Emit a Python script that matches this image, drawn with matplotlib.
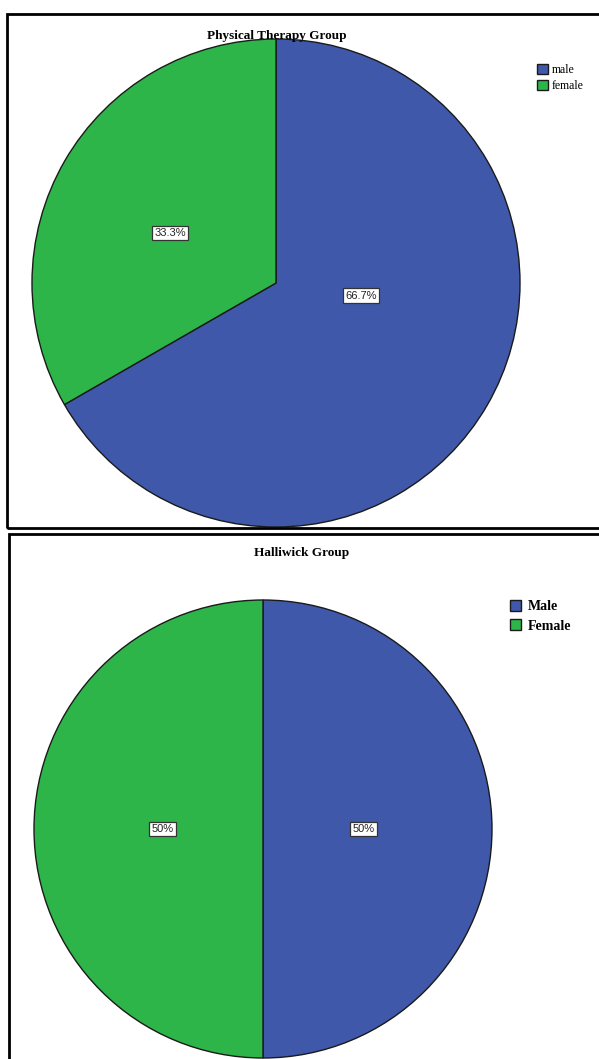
import matplotlib.pyplot as plt
from matplotlib.patches import Rectangle

W, H = 599, 1059

genders_top = ['male', 'female']
share_top = [66.7, 33.3]
genders_bottom = ['Male', 'Female']
share_bottom = [50, 50]
colors = ['#3F58AA', '#2DB54A']

fig = plt.figure(figsize=(W / 100, H / 100), dpi=100)


def px_axes(cx, cy, r):
    return fig.add_axes([(cx - r) / W, (H - cy - r) / H, 2 * r / W, 2 * r / H])


def draw_pie(ax, vals, label_pos=None, pctdist=0.44):
    wedges, texts, autotexts = ax.pie(
        vals, colors=colors, startangle=90, counterclock=False,
        autopct=lambda p: f'{p:.1f}%' if abs(p - round(p)) > 0.05 else f'{p:.0f}%',
        pctdistance=pctdist,
        wedgeprops=dict(edgecolor='#1a1a1a', linewidth=1.0),
        textprops=dict(family='Liberation Sans', fontsize=8, color='#222222'))
    for i, t in enumerate(autotexts):
        t.set_bbox(dict(boxstyle='square,pad=0.22', facecolor='white',
                        edgecolor='#333333', linewidth=0.9))
        if label_pos is not None:
            t.set_position(label_pos[i])
    ax.set_xlim(-1, 1)
    ax.set_ylim(-1, 1)
    ax.set_aspect('auto')
    ax.axis('off')
    return wedges


# panel frames
fig.patches.append(Rectangle((7 / W, 1 - 528 / H), 600 / W, 514 / H, transform=fig.transFigure,
                             fill=False, edgecolor='black', linewidth=2))
fig.patches.append(Rectangle((9 / W, -0.01), 600 / W, 1 - 534 / H + 0.01, transform=fig.transFigure,
                             fill=False, edgecolor='black', linewidth=2))

# top pie
ax1 = px_axes(276, 283, 244)
w1 = draw_pie(ax1, share_top, label_pos=[(0.348, -0.053), (-0.434, 0.205)])
fig.text(277 / W, 1 - 36 / H, 'Physical Therapy Group', ha='center', va='center',
         family='Liberation Serif', fontweight='bold', fontsize=9.5)
fig.legend(w1, genders_top, loc='upper left', bbox_to_anchor=(537 / W, 1 - 64 / H),
           frameon=False, handlelength=0.95, handleheight=0.95, handletextpad=0.3,
           labelspacing=0.3, prop=dict(family='Liberation Serif', size=8.5),
           borderpad=0, borderaxespad=0)

# bottom pie
ax2 = px_axes(263, 829, 229)
w2 = draw_pie(ax2, share_bottom)
fig.text(302 / W, 1 - 553 / H, 'Halliwick Group', ha='center', va='center',
         family='Liberation Serif', fontweight='bold', fontsize=9.5)
fig.legend(w2, genders_bottom, loc='upper left', bbox_to_anchor=(510 / W, 1 - 600 / H),
           frameon=False, handlelength=0.8, handleheight=0.8, handletextpad=0.5,
           labelspacing=0.45, prop=dict(family='Liberation Serif', size=10, weight='bold'),
           borderpad=0, borderaxespad=0)

fig.savefig('out.png', dpi=100)
